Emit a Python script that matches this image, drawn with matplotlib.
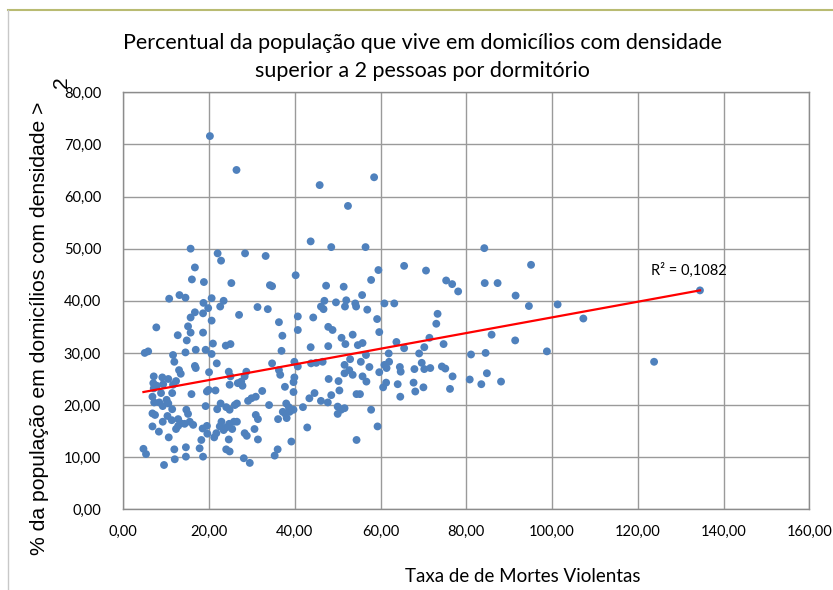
import numpy as np
import matplotlib
matplotlib.use("Agg")
import matplotlib.pyplot as plt
from matplotlib.lines import Line2D

# ---- data ----
taxa_mortes = [
    20.2, 26.4, 45.8, 58.5, 52.4, 43.7, 48.5, 56.5, 15.7, 22.0, 28.4, 33.2, 22.8, 16.7, 40.2, 16.0,
    18.8, 25.2, 34.2, 34.7, 47.3, 51.4, 59.5, 57.8, 55.7, 65.5, 70.6, 84.2, 95.1, 75.3, 76.7, 78.1,
    84.3, 87.3, 91.5, 94.6, 101.3, 73.3, 73.0, 71.4, 74.7, 70.2, 85.9, 91.4, 69.0, 81.1, 84.5, 98.8,
    69.6, 70.2, 71.6, 74.3, 75.1, 76.8, 80.8, 83.5, 84.8, 88.1, 70.0, 76.2, 134.5, 107.3, 123.8,
    49.6, 52.0, 51.7, 54.1, 54.3, 56.9, 60.9, 63.2, 46.9, 46.1, 46.7,
    10.7, 13.1, 14.5, 18.7, 20.6, 23.4, 22.6, 19.8, 31.3, 33.7, 16.7, 15.7, 18.6, 20.6, 27.0, 7.7,
    15.1, 15.7, 12.7, 18.6, 14.8, 20.9, 23.9, 25.0, 5.0, 5.8, 11.6, 14.5, 16.9, 19.2, 20.6, 11.9,
    21.8, 16.7, 16.9, 13.0, 13.4, 7.1, 9.1, 10.5, 7.0, 7.8, 7.1, 9.3, 12.3, 11.6, 20.0, 24.6,
    25.0, 28.7, 28.3, 26.7, 27.5, 27.8, 24.8, 8.8, 11.4, 15.9, 19.5, 19.9, 21.5, 6.8, 7.2, 10.1,
    10.5, 8.4, 9.2, 11.4, 14.7, 15.1, 19.2, 21.9, 22.7, 24.0, 24.8, 26.0, 26.5, 29.1, 29.9, 30.9,
    32.4, 30.9, 31.4, 6.8, 7.4, 9.2, 10.3, 11.3, 12.8, 13.4, 12.3, 12.8, 14.3, 15.5, 16.3, 6.8,
    8.3, 10.6, 18.5, 19.5, 18.2, 19.6, 21.2, 21.7, 22.5, 22.9, 23.4, 24.0, 24.7, 24.6, 25.4, 25.8,
    26.5, 28.3, 28.8, 30.6, 31.4, 4.7, 5.3, 9.5, 11.9, 12.0, 14.6, 14.6, 17.8, 18.6, 24.0, 24.8,
    28.1, 29.5, 34.0,
    40.7, 36.3, 44.3, 40.7, 37.1, 47.8, 48.8, 59.2, 59.7, 50.9, 51.8, 53.5, 54.7, 55.8, 43.7, 47.8,
    36.9, 63.7, 65.5, 34.7, 36.3, 36.6, 39.9, 40.7, 39.9, 39.7, 37.7, 39.7, 43.8, 45.0, 46.5, 47.9,
    50.2, 50.4, 48.5, 44.6, 43.4, 46.1, 47.7, 51.6, 52.7, 53.5, 55.4, 57.4, 55.8, 56.7, 54.4, 55.2,
    59.7, 60.9, 62.0, 61.4, 64.5, 64.7, 61.3, 60.6, 64.0, 64.6, 67.7, 68.1, 67.9, 38.0, 38.6, 37.2,
    37.8, 38.8, 39.7, 41.9, 36.1, 38.1, 50.0, 50.8, 51.6, 50.0, 57.8, 42.9, 59.3, 39.2, 54.4, 36.0,
    35.3, 61.9, 56.6, 52.9, 51.6,
]
pct_densidade = [
    71.6, 65.1, 62.2, 63.7, 58.2, 51.4, 50.3, 50.3, 50.0, 49.1, 49.1, 48.6, 47.7, 46.4, 44.9, 44.1,
    43.6, 43.4, 43.0, 42.8, 42.9, 42.7, 45.9, 44.0, 41.1, 46.7, 45.8, 50.1, 46.9, 43.9, 43.2, 41.8,
    43.4, 43.4, 41.0, 39.0, 39.3, 37.5, 35.6, 32.9, 31.7, 31.1, 33.5, 32.4, 29.9, 29.7, 30.0, 30.3,
    28.1, 26.9, 27.1, 27.4, 27.0, 25.5, 24.9, 24.0, 26.1, 24.5, 23.4, 23.1, 42.0, 36.6, 28.3,
    39.7, 40.1, 38.9, 39.5, 38.9, 38.3, 39.5, 39.5, 40.0, 38.9, 38.4,
    40.4, 41.1, 40.6, 39.6, 40.5, 40.0, 38.9, 38.6, 38.8, 38.4, 37.8, 36.8, 37.6, 36.2, 37.3, 34.9,
    35.1, 33.9, 33.4, 33.9, 32.4, 31.8, 31.4, 31.7, 30.0, 30.3, 29.6, 30.1, 30.6, 30.6, 29.8, 28.3,
    28.0, 27.5, 27.1, 26.7, 26.0, 25.5, 25.3, 25.0, 24.2, 23.7, 23.2, 24.0, 24.6, 23.9, 26.3, 26.4,
    25.5, 26.4, 25.5, 24.2, 24.5, 23.7, 23.9, 22.3, 22.3, 22.1, 22.6, 22.9, 22.8, 21.6, 20.5, 21.0,
    20.3, 20.5, 19.8, 19.2, 19.1, 18.3, 19.8, 19.2, 20.3, 19.6, 19.1, 20.0, 20.3, 20.8, 21.3, 21.6,
    22.7, 18.1, 17.3, 18.4, 18.1, 16.8, 17.9, 17.1, 17.3, 16.5, 15.4, 16.0, 16.4, 16.8, 16.2, 15.9,
    14.9, 13.8, 15.5, 16.0, 13.3, 14.5, 13.8, 14.6, 15.9, 16.8, 15.2, 15.7, 16.4, 13.4, 15.4, 16.8,
    16.8, 14.6, 14.1, 15.4, 13.4, 11.6, 10.6, 8.5, 11.5, 9.6, 11.9, 10.1, 11.7, 10.1, 11.5, 11.1,
    9.8, 8.9, 20.0,
    37.0, 35.9, 36.8, 34.4, 33.3, 35.0, 34.4, 36.5, 34.0, 32.9, 31.7, 33.5, 31.5, 31.9, 31.1, 31.3,
    30.4, 32.1, 30.9, 28.0, 26.7, 25.8, 28.3, 27.4, 25.3, 24.4, 23.5, 22.5, 28.0, 28.1, 28.3, 25.0,
    24.6, 22.8, 21.9, 22.3, 21.3, 20.8, 20.5, 26.1, 26.7, 25.8, 28.3, 27.3, 25.5, 24.5, 22.1, 22.1,
    26.3, 27.7, 28.3, 27.1, 27.3, 26.4, 24.3, 23.4, 24.0, 21.6, 24.3, 22.6, 26.9, 20.3, 19.6, 18.7,
    18.3, 18.7, 19.1, 19.6, 17.3, 17.5, 19.7, 19.1, 19.4, 18.3, 19.1, 15.7, 15.9, 13.0, 13.3, 11.5,
    10.3, 29.9, 29.6, 28.8, 27.7,
]
# linear trendline as drawn in the reference (value at the first and last x)
trend_y_at_ends = [22.5, 42.0]
x_ticks = [0, 20, 40, 60, 80, 100, 120, 140, 160]
y_ticks = [0, 10, 20, 30, 40, 50, 60, 70, 80]
r2_text = "R² = 0,1082"
title = "Percentual da população que vive em domicílios com densidade\nsuperior a 2 pessoas por dormitório"
xlabel = "Taxa de de Mortes Violentas"
ylabel_line1 = "% da população em domicílios com densidade >"
ylabel_line2 = "2"

narrow = ["Lato", "DejaVu Sans"]
plt.rcParams["font.family"] = narrow

W, H = 833, 590
fig = plt.figure(figsize=(W / 100, H / 100), dpi=100)
ax = fig.add_axes([123.3 / W, 1 - 509.3 / H, (809.3 - 123.3) / W, (509.3 - 92.3) / H])

x = np.array(taxa_mortes)
y = np.array(pct_densidade)

ax.set_xlim(0, 160)
ax.set_ylim(0, 80)
ax.set_xticks(x_ticks)
ax.set_yticks(y_ticks)
ax.set_xticklabels([f"{v:.2f}".replace(".", ",") for v in x_ticks], fontsize=10.5)
ax.set_yticklabels([f"{v:.2f}".replace(".", ",") for v in y_ticks], fontsize=10.5)
ax.tick_params(length=0)
ax.tick_params(axis="x", pad=11)
ax.tick_params(axis="y", pad=16)
ax.grid(True, color="#9a9a9a", linewidth=1.0)
ax.set_axisbelow(True)
for s in ax.spines.values():
    s.set_color("#8c8c8c")
    s.set_linewidth(1.0)

ax.scatter(x, y, s=32, color="#4F81BD", edgecolors="none", zorder=3)

xl = [x.min(), x.max()]
ax.plot(xl, trend_y_at_ends, color="#FF0000", linewidth=1.6, zorder=4)
ax.text(123.0, 45.9, r2_text, fontsize=10.5, va="center", ha="left")

fig.text(0.507, 1 - 57 / H, title, ha="center", va="center", fontsize=15.5, linespacing=1.45)
fig.text(523 / W, 1 - 577 / H, xlabel, ha="center", va="center", fontsize=13.5)
yfam = ["Liberation Sans", "DejaVu Sans"]
fig.text(40 / W, 1 - 328 / H, ylabel_line1, rotation=90, ha="center", va="center",
         fontsize=15.2, family=yfam)
fig.text(62 / W, 1 - 82 / H, ylabel_line2, rotation=90, ha="center", va="center",
         fontsize=15.2, family=yfam)

# outer frame lines
fig.add_artist(Line2D([8 / W, 1], [1 - 10 / H, 1 - 10 / H], color="#b9bb72", linewidth=1.5,
                      transform=fig.transFigure))
fig.add_artist(Line2D([8 / W, 8 / W], [0, 1 - 10 / H], color="#c8c8c8", linewidth=1.0,
                      transform=fig.transFigure))

fig.savefig("out.png", dpi=100)
